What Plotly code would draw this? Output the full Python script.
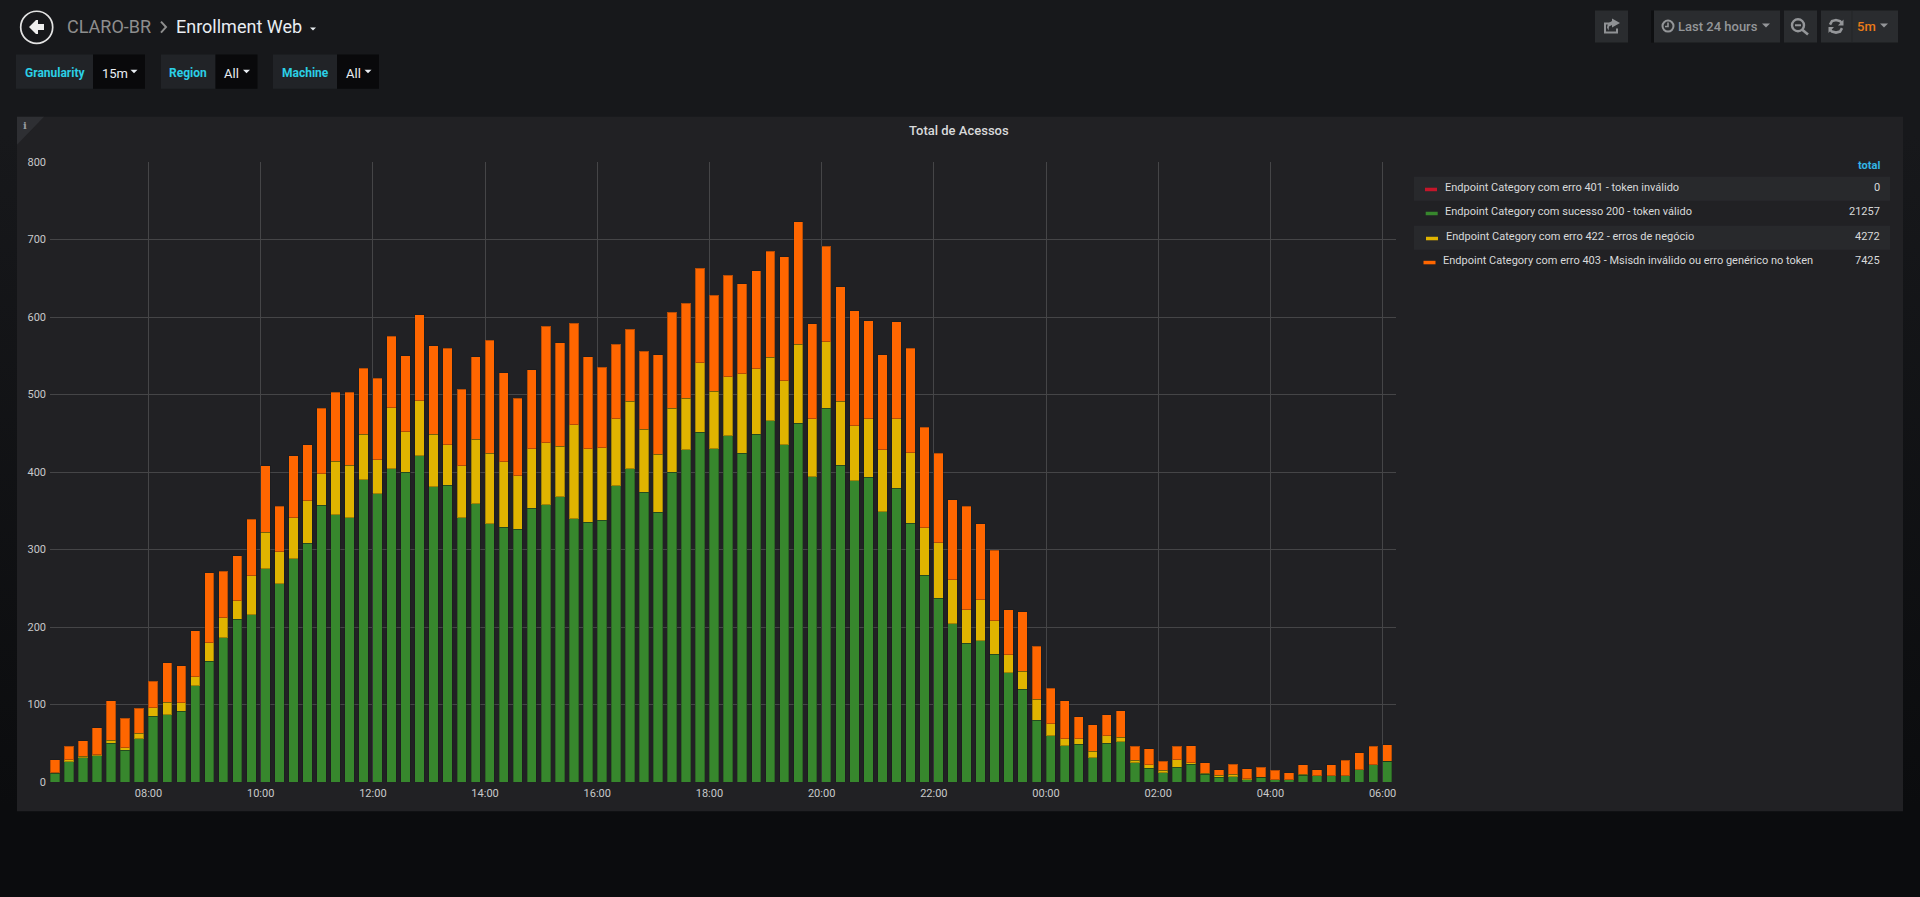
import pandas as pd
import plotly.graph_objects as go

W, H = 1920, 897
LEFT, RIGHT, TOP, BOTTOM = 50, 1396, 162.3, 781.7

# 15 minute buckets, bar left edge sits on the bucket time
times = pd.date_range("2019-05-14 06:15", periods=96, freq="15min")

erro_401 = [0] * 96
sucesso_200 = [11, 26, 31, 34, 50, 41, 56, 85, 87, 91, 124, 156, 186, 210, 216, 275,
               256, 288, 308, 357, 345, 341, 390, 372, 404, 400, 421, 381, 383, 341, 359, 333,
               329, 326, 353, 358, 368, 340, 335, 338, 382, 404, 374, 348, 400, 429, 451, 430,
               447, 424, 449, 466, 435, 463, 394, 482, 409, 389, 393, 349, 379, 334, 267, 237,
               204, 179, 182, 165, 141, 120, 80, 60, 47, 49, 31, 50, 52, 25, 18, 12,
               19, 23, 10, 6, 7, 3, 6, 3, 3, 9, 8, 8, 8, 16, 22, 27]
erro_422 = [1, 3, 2, 1, 4, 3, 7, 11, 16, 11, 12, 24, 26, 24, 50, 47,
            41, 53, 55, 41, 69, 68, 59, 44, 79, 52, 71, 68, 52, 67, 83, 91,
            84, 69, 77, 80, 65, 121, 95, 93, 87, 87, 81, 75, 82, 66, 90, 74,
            76, 103, 84, 82, 83, 102, 75, 86, 82, 71, 76, 80, 90, 91, 61, 72,
            57, 43, 53, 43, 23, 23, 27, 15, 9, 7, 9, 10, 6, 3, 4, 3,
            10, 2, 1, 3, 3, 1, 0, 0, 0, 1, 0, 0, 0, 0, 0, 0]
erro_403 = [17, 17, 20, 35, 51, 38, 32, 34, 51, 48, 59, 90, 60, 58, 73, 86,
            59, 80, 72, 84, 89, 94, 85, 105, 92, 98, 111, 114, 125, 99, 107, 146,
            115, 100, 102, 150, 134, 131, 119, 104, 96, 93, 101, 128, 124, 123, 122, 124,
            131, 116, 127, 137, 160, 158, 122, 123, 148, 148, 126, 122, 125, 135, 130, 115,
            103, 134, 98, 91, 58, 77, 68, 46, 49, 28, 34, 27, 34, 18, 21, 12,
            17, 22, 14, 7, 13, 13, 13, 12, 9, 12, 8, 14, 20, 22, 24, 21]

legend_names = ["Endpoint Category com erro 401 - token inválido",
                "Endpoint Category com sucesso 200 - token válido",
                "Endpoint Category com erro 422 - erros de negócio",
                "Endpoint Category com erro 403 - Msisdn inválido ou erro genérico no token"]
legend_totals = [0, 21257, 4272, 7425]

RED, GREEN, YELLOW, ORANGE = "#c4162a", "#37872d", "#e0b400", "#ff6600"
FONT = "Roboto"


# paper coordinates are relative to the plot area, so convert from page pixels
def px(x):
    return (x - LEFT) / (RIGHT - LEFT)


def py(y):
    return (BOTTOM - y) / (BOTTOM - TOP)


def poly(points):
    return "M" + "L".join(f"{px(x):.5f},{py(y):.5f}" for x, y in points) + "Z"


def line(points):
    return "M" + "L".join(f"{px(x):.5f},{py(y):.5f}" for x, y in points)


shapes = []
annotations = []


def rect(x0, y0, x1, y1, color):
    shapes.append(dict(type="rect", xref="paper", yref="paper", x0=px(x0), x1=px(x1),
                       y0=py(y0), y1=py(y1), fillcolor=color, line_width=0, layer="below"))


def fill(points, color):
    shapes.append(dict(type="path", xref="paper", yref="paper", path=poly(points),
                       fillcolor=color, line_width=0, layer="below"))


def stroke(points, color, width=2):
    shapes.append(dict(type="path", xref="paper", yref="paper", path=line(points),
                       line=dict(color=color, width=width), layer="below"))


def circle(cx, cy, r, color, width=2):
    shapes.append(dict(type="circle", xref="paper", yref="paper", x0=px(cx - r), x1=px(cx + r),
                       y0=py(cy + r), y1=py(cy - r), line=dict(color=color, width=width), layer="below"))


def caret(cx, cy, color, size=4):
    fill([(cx - size, cy - size / 2), (cx + size, cy - size / 2), (cx, cy + size / 2)], color)


def text(x, y, s, size, color, anchor="left", weight=400, family=FONT):
    annotations.append(dict(x=px(x), y=py(y), xref="paper", yref="paper", text=s, showarrow=False,
                            xanchor=anchor, yanchor="middle", borderpad=0,
                            font=dict(family=family, size=size, color=color, weight=weight)))


# main panel
rect(17, 117, 1903, 811, "#212124")
fill([(17, 117), (44, 117), (17, 145)], "#2e2f33")
text(24.5, 126, "i", 10, "#9a9ca0", "center", 700, "DejaVu Serif")
text(959, 131, "Total de Acessos", 13, "#d8d9da", "center", 500)

# header
circle(36.7, 27.7, 16, "#e3e3e3", 1.7)
fill([(29, 27.5), (36, 20.5), (38, 20.5), (38, 24.5), (44, 24.5), (44, 30.5),
      (38, 30.5), (38, 34.5), (36, 34.5)], "#eeeeee")
text(66, 27, "CLARO-BR", 18, "#8e8e8e")
stroke([(161, 22), (166, 27.5), (161, 33)], "#8e8e8e", 2)
text(174.5, 27, "Enrollment Web", 18, "#e9edf2")
caret(313, 29.5, "#e9edf2", 3)

# template variables
for x0, x1, x2, label, value in [(16, 93, 145, "Granularity", "15m"),
                                 (161, 215.5, 257.5, "Region", "All"),
                                 (273, 337, 379, "Machine", "All")]:
    rect(x0, 55, x1, 89, "#212327")
    rect(x1, 55, x2, 89, "#09090b")
    text((x0 + x1) / 2, 73, label, 12, "#2bcfe6", "center", 700)
    text(x1 + 8, 73.5, value, 13, "#e9edf2")
    caret(x2 - 11, 72, "#e9edf2", 3.5)

# toolbar
for x0, x1 in [(1595, 1628), (1654, 1780), (1784, 1817), (1821, 1898)]:
    rect(x0, 11, x1, 43, "#2a2c2f")
rect(1651, 11, 1654, 43, "#0e0f11")
stroke([(1852, 11), (1852, 43)], "#232528", 1)

# share icon
stroke([(1615, 24), (1605, 24), (1605, 33), (1617, 33), (1617, 29)], "#8f9194", 2)
fill([(1612, 19), (1620, 23.5), (1612, 28), (1612, 25.5), (1609, 27), (1608.5, 31), (1607, 28),
      (1608, 24), (1612, 21.5)], "#8f9194")

# time picker
circle(1668, 26.5, 5.5, "#949699", 2)
stroke([(1668, 23), (1668, 27), (1665, 27)], "#949699", 1.6)
text(1677, 26.5, "Last 24 hours", 13, "#949699", weight=500)
caret(1766, 26, "#949699", 4)

# zoom out icon
circle(1798, 25.7, 6, "#949699", 2.4)
stroke([(1795, 25.7), (1801, 25.7)], "#949699", 2)
stroke([(1802, 30), (1808, 35)], "#949699", 2.6)

# refresh icon
stroke([(1830, 25), (1832, 21.5), (1836, 20.5), (1840, 21.5), (1842, 23.5)], "#949699", 2.6)
fill([(1843.5, 20), (1843.5, 26), (1838, 26)], "#949699")
stroke([(1842, 28.5), (1840, 32), (1836, 33), (1832, 32), (1830, 30)], "#949699", 2.6)
fill([(1828.5, 33.5), (1828.5, 27.5), (1834, 27.5)], "#949699")
text(1856.5, 26.5, "5m", 13, "#eb7b18", weight=500)
caret(1884, 26, "#949699", 4)

# legend table
text(1881, 166, "total", 11, "#33b5e5", "right", 700)
rect(1414, 177, 1890, 201, "#28292c")
rect(1414, 226, 1890, 250, "#28292c")
legend_rows = [(188, 1443.5, 1425, RED), (212, 1444, 1425.7, GREEN),
               (237, 1444.5, 1426, YELLOW), (261, 1441.5, 1423.5, ORANGE)]
for (row_y, text_x, swatch_x, color), name, total in zip(legend_rows, legend_names, legend_totals):
    rect(swatch_x, row_y, swatch_x + 12, row_y + 3.5, color)
    text(text_x, row_y, name, 11, "#d8d9da")
    text(1881, row_y, str(total), 11, "#d8d9da", "right")

fig = go.Figure()
for values, color in [(erro_401, RED), (sucesso_200, GREEN), (erro_422, YELLOW), (erro_403, ORANGE)]:
    fig.add_trace(go.Bar(x=times, y=values, width=600000, offset=0, showlegend=False,
                         marker=dict(color=color, line=dict(color="rgba(20,20,20,0.3)", width=1))))

fig.update_layout(
    width=W,
    height=H,
    barmode="stack",
    margin=dict(l=LEFT, r=W - RIGHT, t=TOP, b=H - BOTTOM, pad=0),
    paper_bgcolor="rgba(0,0,0,0)",
    plot_bgcolor="rgba(0,0,0,0)",
    font=dict(family=FONT, size=11, color="#c8c9ca"),
    shapes=shapes,
    annotations=annotations,
    xaxis=dict(range=["2019-05-14 06:14:40", "2019-05-15 06:14:20"], type="date", dtick=7200000,
               tick0="2019-05-14 08:00", tickformat="%H:%M", gridcolor="#454547", gridwidth=1,
               showline=False, zeroline=False, ticks="", tickfont=dict(size=11), ticklabelstandoff=3),
    yaxis=dict(range=[0, 800], dtick=100, gridcolor="#454547", gridwidth=1, showline=False,
               zeroline=False, ticks="", tickfont=dict(size=11), ticklabelstandoff=3),
)

fig.write_html("out.html", config=dict(displayModeBar=False), post_script="""
document.body.style.margin = '0';
document.documentElement.style.background = 'linear-gradient(#17181b, #17181b 15%, #0b0c0e 90%)';
document.documentElement.style.height = '100%';
""")
